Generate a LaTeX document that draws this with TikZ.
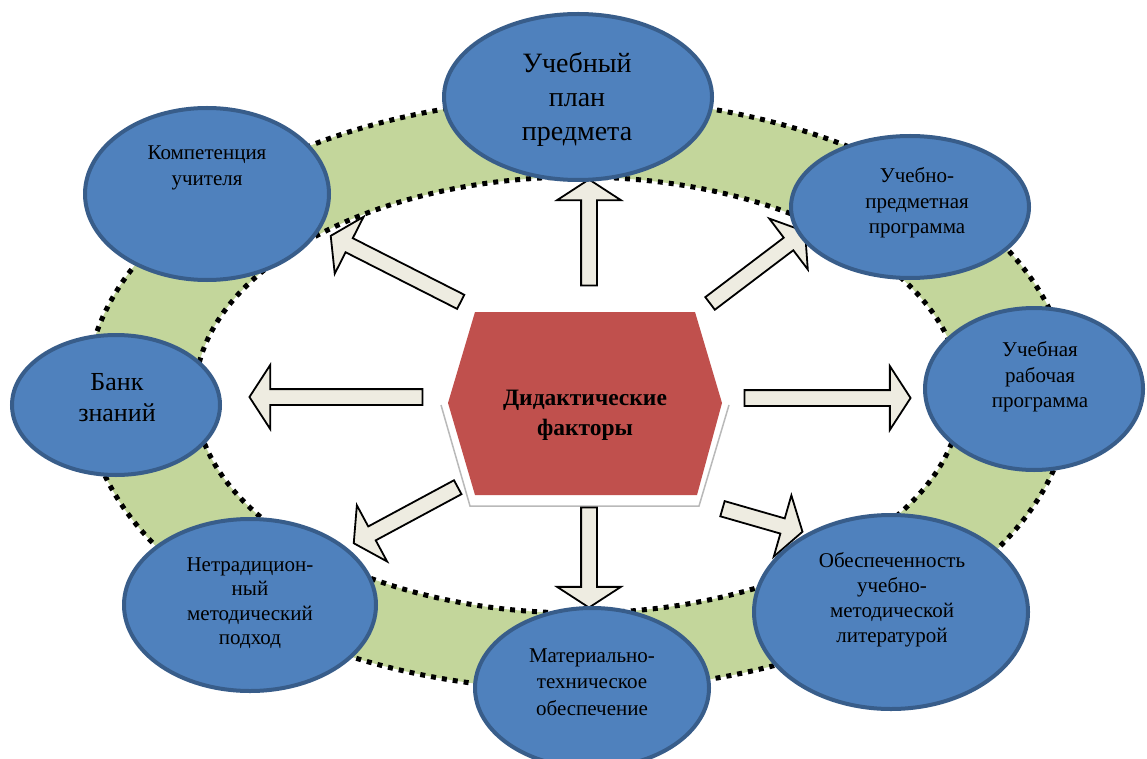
\documentclass[tikz,border=0pt]{standalone}
\usepackage{fontspec}
\setmainfont{Liberation Serif}
\usetikzlibrary{shapes.arrows,shapes.geometric,calc}
\definecolor{nodefill}{HTML}{4F81BD}
\definecolor{nodeline}{HTML}{385D8A}
\definecolor{ringfill}{HTML}{C3D69B}
\definecolor{hexfill}{HTML}{C0504D}
\definecolor{arrowfill}{HTML}{EEECE1}
\newcommand\blockarrow[2]{\path let \p1=(#1), \p2=(#2), \n1={veclen(\x2-\x1,\y2-\y1)} in (#1) -- (#2) node[blockarr, sloped, allow upside down, pos=0.5, minimum height=\n1] {};}
\begin{document}
\begin{tikzpicture}[x=1pt,y=-1pt,
 factor/.style={ellipse, draw=nodeline, fill=nodefill, line width=4pt, inner sep=0pt},
 lbl/.style={align=center, text=black, font=\fontsize{21}{25.5}\selectfont},
 blockarr/.style={single arrow, draw=black, fill=arrowfill, line width=1.8pt, text height=0pt, text depth=0pt, inner xsep=0pt, inner ysep=7pt, minimum width=62pt, single arrow head extend=24pt, single arrow tip angle=114, single arrow head indent=0pt},
 ringline/.style={draw=black, line width=5pt, dash pattern=on 5pt off 6pt}]
\useasboundingbox (0,0) rectangle (1147,759);
\fill[white] (0,0) rectangle (1147,759);
% ring
\fill[ringfill, even odd rule] (578,394) ellipse [x radius=492pt, y radius=296pt] (578,395) ellipse [x radius=383pt, y radius=218pt];
\draw[ringline] (578,394) ellipse [x radius=492pt, y radius=296pt];
\draw[ringline] (578,395) ellipse [x radius=383pt, y radius=218pt];
% centre
\draw[gray!55, line width=1.5pt] (441,405) -- (470,506) -- (699,506) -- (729,405);
\fill[hexfill] (475,312) -- (695,312) -- (722,403) -- (697,495) -- (475,495) -- (448,403) -- cycle;
\node[align=center, font=\fontsize{23.5}{30}\selectfont\bfseries] (hex) at (585,415) {Дидактические\\факторы};
% arrow end points
\coordinate (a1s) at (589,288); \coordinate (a1e) at (589,182);
\coordinate (a2s) at (463,303); \coordinate (a2e) at (333,237);
\coordinate (a3s) at (708,305); \coordinate (a3e) at (803,233);
\coordinate (a4s) at (425,397); \coordinate (a4e) at (252,397);
\coordinate (a5s) at (742,398); \coordinate (a5e) at (908,398);
\coordinate (a6s) at (460,486); \coordinate (a6e) at (356,542);
\coordinate (a7s) at (589,505); \coordinate (a7e) at (589,605);
\coordinate (a8s) at (720,508); \coordinate (a8e) at (800,531);
\blockarrow{a1s}{a1e}
\blockarrow{a2s}{a2e}
\blockarrow{a3s}{a3e}
\blockarrow{a4s}{a4e}
\blockarrow{a5s}{a5e}
\blockarrow{a6s}{a6e}
\blockarrow{a7s}{a7e}
\blockarrow{a8s}{a8e}
% ellipses
\node[factor, minimum width=268pt, minimum height=166pt] (plan) at (578,97) {};
\node[factor, minimum width=244pt, minimum height=172pt] (komp) at (207,194) {};
\node[factor, minimum width=238pt, minimum height=142pt] (upp) at (910,207) {};
\node[factor, minimum width=208pt, minimum height=140pt] (bank) at (116,405) {};
\node[factor, minimum width=218pt, minimum height=162pt] (urp) at (1034,389) {};
\node[factor, minimum width=252pt, minimum height=172pt] (netr) at (250,605) {};
\node[factor, minimum width=234pt, minimum height=160pt] (mat) at (592,688) {};
\node[factor, minimum width=274pt, minimum height=194pt] (obes) at (891,612) {};
% labels
\node[lbl, font=\fontsize{28}{34}\selectfont] (plan-t) at (577,99) {Учебный\\план\\предмета};
\node[lbl] (komp-t) at (207,168) {Компетенция\\учителя};
\node[lbl] (upp-t) at (917,203) {Учебно-\\предметная\\программа};
\node[lbl, font=\fontsize{26}{31}\selectfont] (bank-t) at (117,398) {Банк\\знаний};
\node[lbl] (urp-t) at (1040,377) {Учебная\\рабочая\\программа};
\node[lbl, font=\fontsize{21}{24.5}\selectfont] (netr-t) at (250,603) {Нетрадицион-\\ный\\методический\\подход};
\node[lbl, font=\fontsize{21}{26.5}\selectfont] (mat-t) at (592,682) {Материально-\\техническое\\обеспечение};
\node[lbl, font=\fontsize{21}{25}\selectfont] (obes-t) at (892,600) {Обеспеченность\\учебно-\\методической\\литературой};
\end{tikzpicture}
\end{document}
